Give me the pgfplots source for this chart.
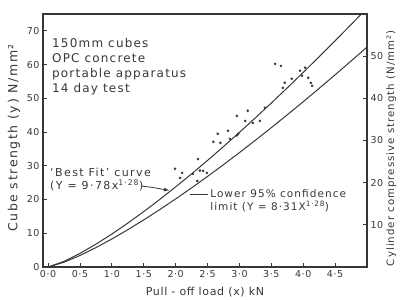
\documentclass[border=0pt]{standalone}
\usepackage{fontspec}
\setmainfont{DejaVu Sans}
\newfontfamily\spA[LetterSpace=6]{DejaVu Sans}
\newfontfamily\spB[LetterSpace=10]{DejaVu Sans}
\newfontfamily\spC[LetterSpace=13]{DejaVu Sans}
\usepackage{pgfplots}
\pgfplotsset{compat=1.18}
\definecolor{ink}{RGB}{55,55,55}

\begin{document}
\begin{tikzpicture}[font=\fontsize{11}{13}\selectfont]
\begin{axis}[
  scale only axis, width=324pt, height=253pt,
  xmin=-0.08, xmax=5.0, ymin=0, ymax=75,
  axis line style={ink, line width=1.1pt},
  tick align=inside, major tick length=4pt,
  tick style={ink, line width=0.8pt},
  xtick={0,0.5,1,1.5,2,2.5,3,3.5,4,4.5},
  xticklabels={0·0,0·5,1·0,1·5,2·0,2·5,3·0,3·5,4·0,4·5},
  ytick={0,10,20,30,40,50,60,70},
  ytick pos=left, xtick pos=bottom,
  /pgf/number format/assume math mode=true,
  tick label style={font=\spA\fontsize{9.5}{10}\selectfont, text=ink},
  xlabel={Pull - off load (x) kN},
  ylabel={Cube strength (y) N/mm²},
  xlabel style={font=\spA\fontsize{11}{13}\selectfont, text=ink, at={(axis description cs:0.5,-0.1)}, anchor=center},
  ylabel style={font=\spC\fontsize{12.5}{14}\selectfont, text=ink, at={(axis description cs:-0.09,0.51)}, anchor=center},
  clip=true,
]
% Best fit curve Y = 9.78 x^1.28 (tabulated)
\addplot[ink, line width=1pt] coordinates {
 (0,0) (0.25,1.66) (0.5,4.03) (0.75,6.77) (1,9.78) (1.25,13.01) (1.5,16.43)
 (1.75,20.02) (2,23.75) (2.25,27.61) (2.5,31.60) (2.75,35.70) (3,39.91)
 (3.25,44.22) (3.5,48.61) (3.75,53.11) (4,57.68) (4.25,62.33) (4.5,67.06)
 (4.75,71.86) (5,76.73)};
% Lower 95% limit Y = 8.31 x^1.28 (tabulated)
\addplot[ink, line width=1pt] coordinates {
 (0,0) (0.25,1.41) (0.5,3.42) (0.75,5.75) (1,8.31) (1.25,11.06) (1.5,13.96)
 (1.75,17.01) (2,20.18) (2.25,23.46) (2.5,26.85) (2.75,30.34) (3,33.91)
 (3.25,37.57) (3.5,41.31) (3.75,45.12) (4,49.01) (4.25,52.96) (4.5,56.98)
 (4.75,61.06) (5,65.20)};
% test results
\addplot[only marks, mark=*, mark size=1.1pt, ink] coordinates {
 (1.99,29.1) (2.10,27.9) (2.07,26.4) (2.27,27.6) (2.35,32.0) (2.43,28.5)
 (2.49,27.9) (2.34,25.5) (2.38,28.6)
 (2.59,37.1) (2.66,39.5) (2.70,36.8) (2.82,40.4) (2.85,38.0) (2.98,39.5)
 (2.96,44.8) (3.13,46.3) (3.09,43.3) (3.21,42.7) (3.32,43.3) (3.40,47.2)
 (2.96,39.0)
 (3.56,60.2) (3.65,59.6)
 (3.71,54.6) (3.82,55.8) (3.95,58.2) (4.03,59.1) (3.98,56.7) (4.08,56.1)
 (4.12,54.6) (3.68,53.1) (4.14,53.7)};
\node[anchor=north west, inner sep=0pt, align=left, text=ink,
  font=\spB\fontsize{12}{14.8}\selectfont] at (axis cs:0.06,67.8)
  {150mm cubes\\OPC concrete\\portable apparatus\\14 day test};
\node[anchor=west, inner sep=0pt, align=left, text=ink,
  font=\spC\fontsize{11}{13}\selectfont] at (axis cs:0.03,25.9)
  {‘Best Fit’ curve\\(Y = 9·78x\textsuperscript{1·28})};
\draw[ink, line width=0.8pt, -latex] (axis cs:1.45,24.0) to[out=-5,in=170] (axis cs:1.9,22.7);
\draw[ink, line width=0.8pt] (axis cs:2.22,21.6) -- (axis cs:2.50,21.6);
\node[anchor=west, inner sep=0pt, align=left, text=ink,
  font=\spB\fontsize{10.5}{13}\selectfont] at (axis cs:2.54,19.6)
  {Lower 95\% confidence\\limit (Y = 8·31X\textsuperscript{1·28})};
\end{axis}
\begin{axis}[
  scale only axis, width=324pt, height=253pt,
  xmin=-0.08, xmax=5.0, ymin=0, ymax=60,
  axis y line*=right, axis x line=none,
  axis line style={ink, line width=1.1pt},
  tick align=inside, major tick length=4pt,
  tick style={ink, line width=0.8pt},
  ytick={10,20,30,40,50},
  /pgf/number format/assume math mode=true,
  tick label style={font=\spA\fontsize{9.5}{10}\selectfont, text=ink},
  ylabel={Cylinder compressive strength (N/mm²)},
  ylabel style={font=\spB\fontsize{10.2}{12}\selectfont, text=ink, at={(axis description cs:1.075,0.47)}, anchor=center},
]
\end{axis}
\pgfresetboundingbox
\path (current axis.south west) ++(-43pt,-33pt) rectangle ++(400pt,300pt);
\end{tikzpicture}
\end{document}
